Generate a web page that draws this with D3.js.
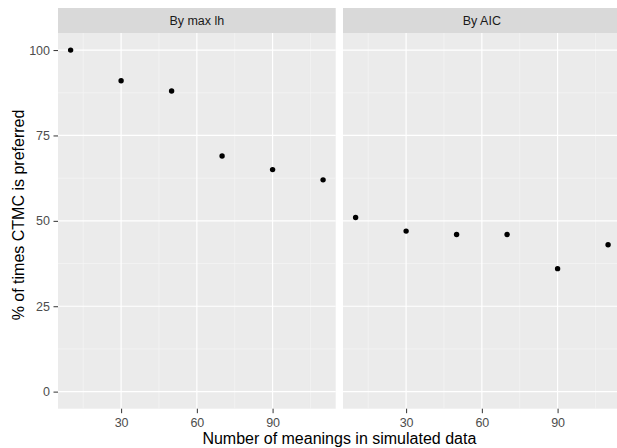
<!DOCTYPE html>
<html>
<head>
<script src="https://cdn.jsdelivr.net/npm/d3@7"></script>
<style type="text/css">
  body{
    margin: 0px;
    background: white;
    font-family: 'Liberation Sans', Arial, sans-serif;
  }
</style>
</head>
<body>

<svg id="chart" width="617" height="448"></svg>

<script>

// data
var meanings = [10, 30, 50, 70, 90, 110];
var byMaxLh = [100, 91, 88, 69, 65, 62];
var byAIC = [51, 47, 46, 46, 36, 43];
var panelNames = ["By max lh", "By AIC"];
var xTicks = [30, 60, 90];
var xMinor = [15, 45, 75, 105];
var yTicks = [0, 25, 50, 75, 100];
var yMinor = [12.5, 37.5, 62.5, 87.5];

var svg = d3.select("#chart");

var panelW = 277.7;
var panelLefts = [58, 343];
var stripTop = 8, stripH = 25;
var panelTop = stripTop + stripH;
var panelBottom = 408.7;
var fontFam = "'Liberation Sans', Arial, sans-serif";

var y = d3.scaleLinear().domain([-5, 105]).range([panelBottom, panelTop]);

var series = [byMaxLh, byAIC];

panelNames.forEach(function(name, p) {

  var left = panelLefts[p];
  var x = d3.scaleLinear().domain([5, 115]).range([left, left + panelW]);

  // strip
  svg.append("rect")
    .attr("x", left).attr("y", stripTop)
    .attr("width", panelW).attr("height", stripH)
    .attr("fill", "#D9D9D9");

  svg.append("text")
    .attr("x", left + panelW / 2)
    .attr("y", stripTop + stripH / 2)
    .attr("dy", "0.35em")
    .attr("text-anchor", "middle")
    .attr("font-size", "12.5px")
    .attr("fill", "#1A1A1A")
    .text(name);

  // panel background
  svg.append("rect")
    .attr("x", left).attr("y", panelTop)
    .attr("width", panelW).attr("height", panelBottom - panelTop)
    .attr("fill", "#EBEBEB");

  var g = svg.append("g");

  // minor grid
  g.selectAll(".xminor").data(xMinor).enter().append("line")
    .attr("x1", x).attr("x2", x)
    .attr("y1", panelTop).attr("y2", panelBottom)
    .attr("stroke", "#F7F7F7").attr("stroke-width", 0.6);

  g.selectAll(".yminor").data(yMinor).enter().append("line")
    .attr("x1", left).attr("x2", left + panelW)
    .attr("y1", y).attr("y2", y)
    .attr("stroke", "#F7F7F7").attr("stroke-width", 0.6);

  // major grid
  g.selectAll(".xmajor").data(xTicks).enter().append("line")
    .attr("x1", x).attr("x2", x)
    .attr("y1", panelTop).attr("y2", panelBottom)
    .attr("stroke", "white").attr("stroke-width", 1.2);

  g.selectAll(".ymajor").data(yTicks).enter().append("line")
    .attr("x1", left).attr("x2", left + panelW)
    .attr("y1", y).attr("y2", y)
    .attr("stroke", "white").attr("stroke-width", 1.2);

  // points
  g.selectAll("circle")
    .data(meanings.map(function(m, i) { return [m, series[p][i]]; }))
    .enter().append("circle")
    .attr("cx", function(d) { return x(d[0]); })
    .attr("cy", function(d) { return y(d[1]); })
    .attr("r", 2.7)
    .attr("fill", "black");

  // x axis
  var xAxis = svg.append("g")
    .attr("transform", "translate(0," + panelBottom + ")")
    .call(d3.axisBottom(x).tickValues(xTicks).tickSize(4.5).tickPadding(4.5));
  xAxis.select(".domain").remove();
  xAxis.selectAll(".tick line").attr("stroke", "#333333");
  xAxis.selectAll(".tick text")
    .attr("fill", "#4D4D4D")
    .attr("font-size", "12.5px")
    .attr("font-family", fontFam);
});

// y axis
var yAxis = svg.append("g")
  .attr("transform", "translate(" + panelLefts[0] + ",0)")
  .call(d3.axisLeft(y).tickValues(yTicks).tickSize(4.5).tickPadding(3.5));
yAxis.select(".domain").remove();
yAxis.selectAll(".tick line").attr("stroke", "#333333");
yAxis.selectAll(".tick text")
  .attr("fill", "#4D4D4D")
  .attr("font-size", "12.5px")
  .attr("font-family", fontFam);

// axis titles
svg.append("text")
  .attr("x", (panelLefts[0] + panelLefts[1] + panelW) / 2)
  .attr("y", 444)
  .attr("text-anchor", "middle")
  .attr("font-size", "16px")
  .attr("fill", "black")
  .text("Number of meanings in simulated data");

svg.append("text")
  .attr("transform", "translate(24,215) rotate(-90)")
  .attr("text-anchor", "middle")
  .attr("font-size", "16px")
  .attr("fill", "black")
  .text("% of times CTMC is preferred");

</script>

</body>
</html>
